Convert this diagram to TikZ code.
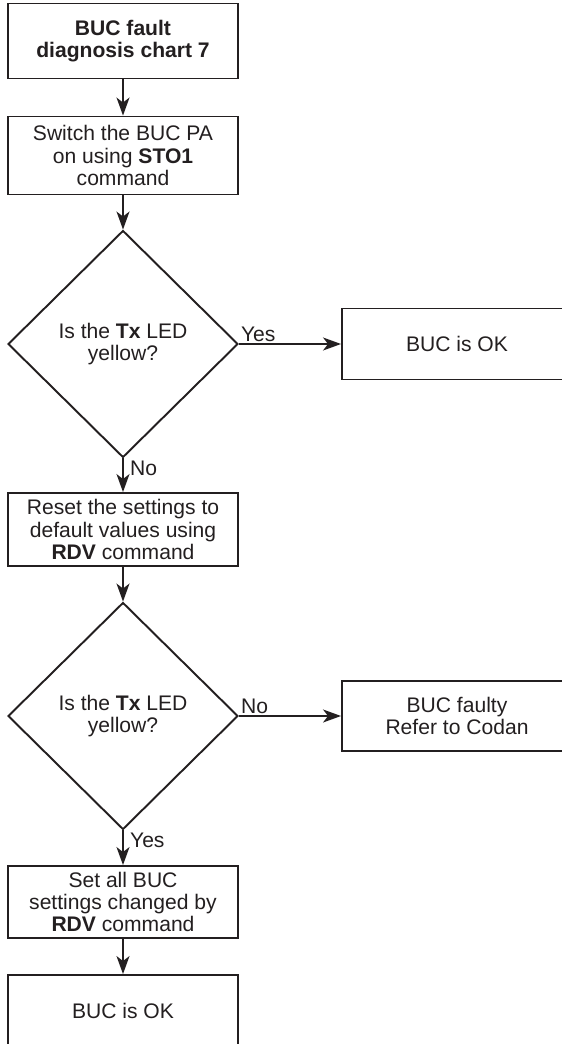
\documentclass[tikz,border=0pt]{standalone}
\usepackage{fontspec}
\setmainfont{Liberation Sans}
\usepackage{tikz}
\usetikzlibrary{positioning}
\usetikzlibrary{shapes.geometric}
\usetikzlibrary{arrows.meta}
\definecolor{inkblk}{HTML}{231F20}

\begin{document}
\begin{tikzpicture}[
	every node/.style={text=inkblk, font=\fontsize{12}{12.6}\selectfont},
	box/.style={draw=inkblk, line width=1.1pt, align=center, minimum width=4.6cm, inner sep=0pt},
	decide/.style={draw=inkblk, line width=1.1pt, diamond, align=center, minimum width=4.6cm, minimum height=4.54cm, inner sep=0pt},
	flow/.style={draw=inkblk, line width=0.7pt, -{Stealth[length=3.6mm, width=2.6mm, inset=1mm]}},
	lbl/.style={inner sep=1pt}]

	\useasboundingbox (0,0) rectangle (11.24,-20.88);

	\node[box, minimum height=1.5cm] at (2.46,-0.82) (titl) {\textbf{BUC fault}\\\textbf{diagnosis chart 7}};
	\node[box, minimum height=1.56cm] at (2.46,-3.11) (switchpa) {Switch the BUC PA\\on using \textbf{STO1}\\command};
	\node[decide] at (2.46,-6.88) (txled1) {Is the \textbf{Tx} LED\\yellow?};
	\node[box, minimum height=1.42cm] at (9.14,-6.88) (bucok1) {BUC is OK};
	\node[box, minimum height=1.46cm] at (2.46,-10.59) (resets) {Reset the settings to\\default values using\\\textbf{RDV} command};
	\node[decide] at (2.46,-14.32) (txled2) {Is the \textbf{Tx} LED\\yellow?};
	\node[box, minimum height=1.4cm] at (9.14,-14.32) (faulty) {BUC faulty\\Refer to Codan};
	\node[box, minimum height=1.44cm] at (2.46,-18.04) (setall) {Set all BUC\\settings changed by\\\textbf{RDV} command};
	\node[box, minimum height=1.44cm] at (2.46,-20.22) (bucok2) {BUC is OK};

	\node[lbl, anchor=south west] at (txled1.east) (yes1) {Yes};
	\node[lbl, anchor=north west, xshift=0.1cm] at (txled1.south) (no1) {No};
	\node[lbl, anchor=south west] at (txled2.east) (no2) {No};
	\node[lbl, anchor=north west, xshift=0.1cm] at (txled2.south) (yes2) {Yes};

	\draw[flow] (titl) -- (switchpa);
	\draw[flow] (switchpa) -- (txled1);
	\draw[flow] (txled1) -- (bucok1);
	\draw[flow] (txled1) -- (resets);
	\draw[flow] (resets) -- (txled2);
	\draw[flow] (txled2) -- (faulty);
	\draw[flow] (txled2) -- (setall);
	\draw[flow] (setall) -- (bucok2);

\end{tikzpicture}
\end{document}
